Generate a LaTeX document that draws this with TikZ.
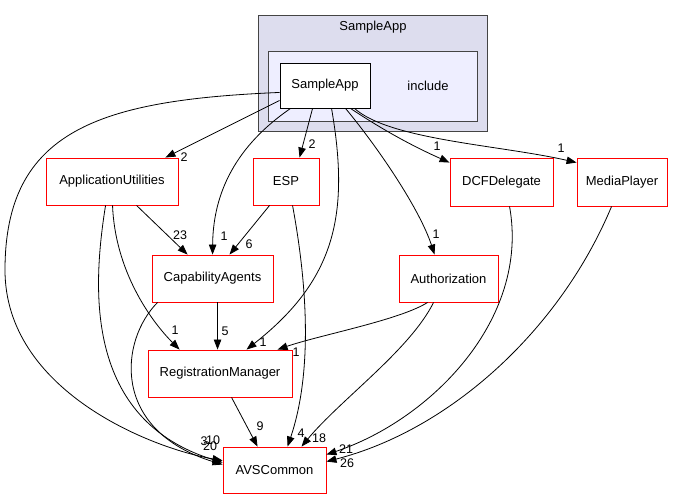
\documentclass[tikz,border=0pt]{standalone}
\usepackage{fontspec}
\setmainfont{Liberation Sans}
\usetikzlibrary{arrows.meta,calc}
\definecolor{outerfill}{HTML}{DDDDEE}
\definecolor{innerfill}{HTML}{EEEEFF}
\definecolor{clborder}{HTML}{444444}
\begin{document}
\begin{tikzpicture}[x=1pt,y=-1pt,
  every node/.style={font=\fontsize{13}{15}\selectfont},
  dirbox/.style={draw=red, fill=white, line width=0.9pt, inner sep=0pt},
  selfbox/.style={draw=black, fill=white, line width=0.9pt, inner sep=0pt},
  dep/.style={draw=black, line width=0.8pt, -{Triangle[length=10pt,width=7.5pt]}},
  lbl/.style={inner sep=0pt, font=\fontsize{12.5}{14}\selectfont}]
\useasboundingbox (0,0) rectangle (677,500);
% clusters
\draw[fill=outerfill, draw=clborder, line width=0.9pt] (258,15) rectangle (487,131);
\node (cltitle) at (373,27) {SampleApp};
\draw[fill=innerfill, draw=clborder, line width=0.9pt] (268,51) rectangle (477,121);
\node (inc) at (428,85.5) {include};
% nodes
\node[selfbox, minimum width=90pt, minimum height=45pt] (SA) at (325,85.5) {SampleApp};
\node[dirbox, minimum width=132pt, minimum height=47pt] (AU) at (112,181.5) {ApplicationUtilities};
\node[dirbox, minimum width=66pt, minimum height=47pt] (ESP) at (286,181.5) {ESP};
\node[dirbox, minimum width=103pt, minimum height=48pt] (DCF) at (501.5,182) {DCFDelegate};
\node[dirbox, minimum width=90pt, minimum height=48pt] (MP) at (622,182) {MediaPlayer};
\node[dirbox, minimum width=121pt, minimum height=47pt] (CA) at (212.5,278.5) {CapabilityAgents};
\node[dirbox, minimum width=99pt, minimum height=47pt] (AUTH) at (448.5,278.5) {Authorization};
\node[dirbox, minimum width=144pt, minimum height=47pt] (RM) at (220,373.5) {RegistrationManager};
\node[dirbox, minimum width=103pt, minimum height=46pt] (AVS) at (274.5,470) {AVSCommon};
% edges from SampleApp
\draw[dep] ($(SA.south west)+(0,-8)$) -- ($(AU.north east)+(-13,0)$);
\draw[dep] ($(SA.south west)+(0,-16)$) .. controls (100,100) and (5,130) .. (5,270)
  .. controls (5,390) and (150,448) .. ($(AVS.north west)+(0,14)$);
\draw[dep] ($(SA.south west)+(11,0)$) .. controls (230,150) and (213,200) .. ($(CA.north west)+(61,0)$);
\draw[dep] ($(SA.south west)+(33,0)$) -- ($(ESP.north west)+(47,0)$);
\draw[dep] ($(SA.south west)+(52,0)$) .. controls (350,215) and (335,280) .. ($(RM.north west)+(99,0)$);
\draw[dep] ($(SA.south west)+(66,0)$) .. controls (380,150) and (420,210) .. ($(AUTH.north west)+(36,0)$);
\draw[dep] ($(SA.south west)+(71,0)$) .. controls (380,128) and (410,145) .. ($(DCF.north west)+(0,5)$);
\draw[dep] ($(SA.south west)+(75,0)$) .. controls (390,140) and (500,145) .. ($(MP.north west)+(0,5)$);
% other edges
\draw[dep] ($(AU.south west)+(60,0)$) .. controls (92,290) and (85,420) .. ($(AVS.north west)+(0,16)$);
\draw[dep] ($(AU.south west)+(67,0)$) .. controls (115,270) and (150,320) .. ($(RM.north west)+(32,0)$);
\draw[dep] ($(AU.south west)+(91,0)$) -- ($(CA.north west)+(36,0)$);
\draw[dep] ($(ESP.south west)+(17,0)$) -- ($(CA.north west)+(78,0)$);
\draw[dep] ($(ESP.south west)+(40,0)$) .. controls (310,300) and (310,380) .. ($(AVS.north west)+(65,0)$);
\draw[dep] ($(CA.south west)+(66,0)$) -- ($(RM.north west)+(70,0)$);
\draw[dep] ($(CA.south west)+(6,0)$) .. controls (120,340) and (110,430) .. ($(AVS.north west)+(0,18)$);
\draw[dep] ($(AUTH.south west)+(29,0)$) .. controls (400,320) and (320,335) .. ($(RM.north west)+(130,0)$);
\draw[dep] ($(AUTH.south west)+(35,0)$) .. controls (410,350) and (340,400) .. ($(AVS.north west)+(79,0)$);
\draw[dep] ($(RM.south west)+(84,0)$) -- ($(AVS.north west)+(35,0)$);
\draw[dep] ($(DCF.south west)+(60,0)$) .. controls (530,320) and (430,420) .. ($(AVS.north east)+(0,8)$);
\draw[dep] ($(MP.south west)+(35,0)$) .. controls (560,330) and (450,430) .. ($(AVS.north east)+(0,15)$);
% labels
\node[lbl] (l1) at (184,157) {2};
\node[lbl] (l2) at (312,144) {2};
\node[lbl] (l3) at (224,236) {1};
\node[lbl] (l4) at (263,342) {1};
\node[lbl] (l5) at (436,234) {1};
\node[lbl] (l6) at (437,146) {1};
\node[lbl] (l7) at (561,148) {1};
\node[lbl] (l8) at (180,235) {23};
\node[lbl] (l9) at (175,330) {1};
\node[lbl] (l10) at (249,244) {6};
\node[lbl] (l11) at (225,331) {5};
\node[lbl] (l12) at (296,352) {1};
\node[lbl] (l13) at (260,426) {9};
\node[lbl] (l14) at (301,433) {4};
\node[lbl] (l15) at (319,438) {18};
\node[lbl] (l16) at (346,449) {21};
\node[lbl] (l17) at (347,463) {26};
\node[lbl] (l18) at (204,441) {3};
\node[lbl] (l19) at (213,440) {10};
\node[lbl] (l20) at (210,446) {20};
\end{tikzpicture}
\end{document}
